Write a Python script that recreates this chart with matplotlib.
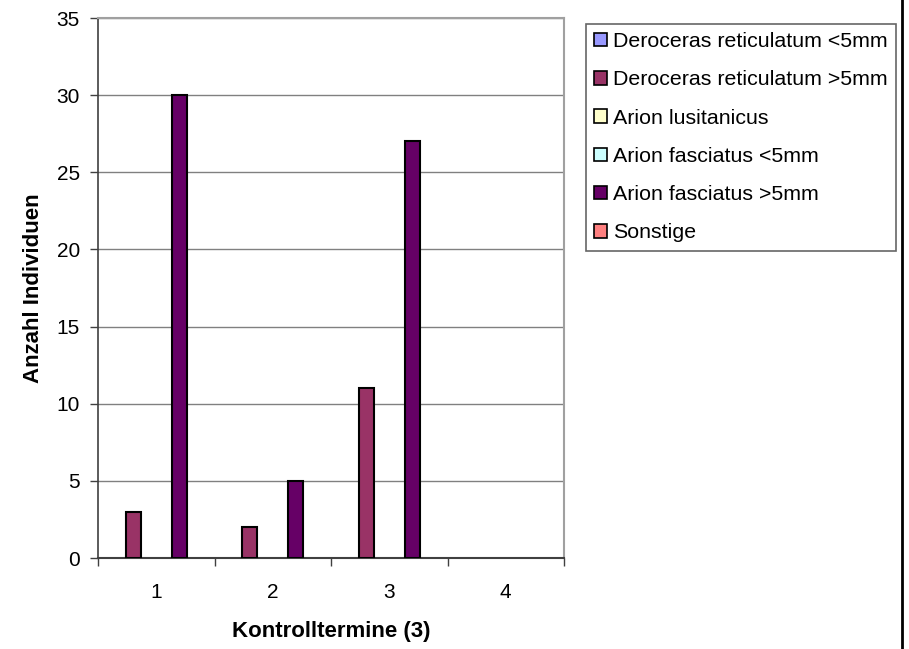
import numpy as np
import matplotlib.pyplot as plt
from matplotlib.lines import Line2D
from matplotlib.patches import Patch

plt.rcParams['font.family'] = ['Liberation Sans', 'DejaVu Sans']

categories = ["1", "2", "3", "4"]
series_names = ["Deroceras reticulatum <5mm", "Deroceras reticulatum >5mm",
                "Arion lusitanicus", "Arion fasciatus <5mm",
                "Arion fasciatus >5mm", "Sonstige"]
values = [
    [0, 0, 0, 0],
    [3, 2, 11, 0],
    [0, 0, 0, 0],
    [0, 0, 0, 0],
    [30, 5, 27, 0],
    [0, 0, 0, 0],
]
colors = ["#9999FF", "#993366", "#FFFFCC", "#CCFFFF", "#660066", "#FF8080"]

fig = plt.figure(figsize=(9.09, 6.49), dpi=100, facecolor="white")
ax = fig.add_axes([98 / 909, 1 - 558 / 649, (564 - 98) / 909, (558 - 18) / 649])

x = np.arange(len(categories))
n = len(series_names)
width = 0.79 / n
for i, (name, vals) in enumerate(zip(series_names, values)):
    pos = x + (i - (n - 1) / 2) * width
    v = np.array(vals)
    mask = v > 0
    ax.bar(pos[mask], v[mask], width=width, color=colors[i],
           edgecolor="black", linewidth=1.5, zorder=3)

ax.set_xlim(-0.5, len(categories) - 0.5)
ax.set_ylim(0, 35)
ax.set_yticks(range(0, 36, 5))
ax.set_yticklabels([str(t) for t in range(0, 36, 5)], fontsize=15)
ax.set_xticks(x)
ax.set_xticklabels(categories, fontsize=15)
ax.set_xticks(np.arange(-0.5, len(categories)), minor=True)
ax.tick_params(axis="x", which="major", length=0, pad=18)
ax.tick_params(axis="x", which="minor", length=6, width=1, color="#404040",
               direction="out")
ax.tick_params(axis="y", length=6, width=1, color="#404040", direction="out",
               pad=7)

ax.yaxis.grid(True, color="#808080", linewidth=1, zorder=0)
ax.set_axisbelow(True)
for side in ["top", "right"]:
    ax.spines[side].set_color("#a0a0a0")
    ax.spines[side].set_linewidth(1.5)
ax.spines["left"].set_color("#404040")
ax.spines["bottom"].set_color("#404040")
ax.spines["left"].set_linewidth(1.2)
ax.spines["bottom"].set_linewidth(1.5)

ax.set_ylabel("Anzahl Individuen", fontsize=16, fontweight="bold", labelpad=9)
ax.set_xlabel("Kontrolltermine (3)", fontsize=16, fontweight="bold", labelpad=14)

handles = [Patch(facecolor=c, edgecolor="black", linewidth=1.2) for c in colors]
leg = fig.legend(handles, series_names, loc="upper left",
                 bbox_to_anchor=(586 / 909, 1 - 24 / 649),
                 fontsize=15.4, frameon=True, fancybox=False,
                 handlelength=0.6, handleheight=0.6, handletextpad=0.3,
                 labelspacing=0.9, borderpad=0.38, borderaxespad=0)
leg.get_frame().set_edgecolor("#404040")
leg.get_frame().set_linewidth(1.2)

fig.add_artist(Line2D([902 / 909, 902 / 909], [0, 1], color="black",
                      linewidth=2, transform=fig.transFigure))

fig.savefig("out.png", dpi=100)
